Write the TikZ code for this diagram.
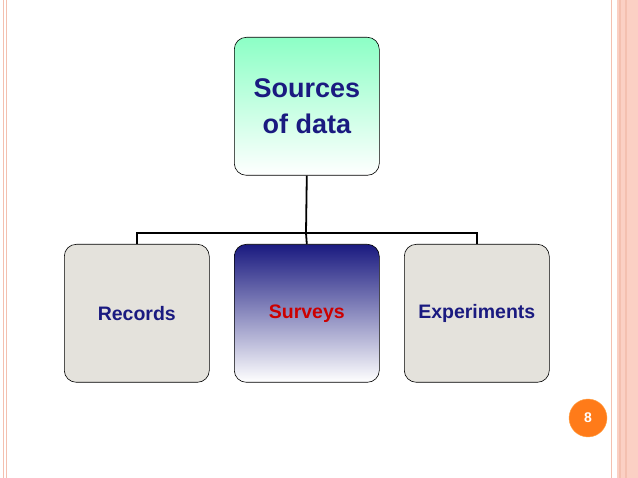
\documentclass[tikz,border=0pt]{standalone}
\usepackage{fontspec}
\setmainfont{Liberation Sans}
\begin{document}
\begin{tikzpicture}[x=1pt,y=-1pt,
  bx/.style={draw=black,rounded corners=12pt,line width=0.6pt,minimum width=145pt,minimum height=138pt,anchor=north west,font=\bfseries\fontsize{19.5}{22}\selectfont,align=center},
  conn/.style={line width=1.8pt}]
\definecolor{pinkl}{HTML}{F4C0B0}
\definecolor{pinkf}{HTML}{FBD0C4}
\definecolor{navy}{HTML}{1A1A80}
\definecolor{stone}{HTML}{E4E2DC}
\useasboundingbox (0,0) rectangle (638,478);
\fill[white] (0,0) rectangle (638,478);
\draw[pinkl,line width=1pt] (3.5,0) -- (3.5,478);
\draw[pinkl,line width=1pt] (6.5,0) -- (6.5,478);
\draw[pinkl,line width=1pt] (611,0) -- (611,478);
\fill[pinkf] (617,0) rectangle (638,478);
\draw[pinkl,line width=1.2pt] (620,0) -- (620,478);
\draw[pinkl,line width=1.2pt] (626,0) -- (626,478);
\node[bx,top color=green!50!cyan!45,bottom color=white,font=\bfseries\fontsize{27}{36}\selectfont,text=navy] (src) at (234,37) {Sources\\of data};
\node[bx,fill=stone,text=navy] (rec) at (64,244) {Records};
\node[bx,top color=navy,bottom color=white,text=red!80!black] (sur) at (234,244) {Surveys};
\node[bx,fill=stone,text=navy] (exp) at (404,244) {Experiments};
\coordinate (j) at (306,233);
\draw[conn] (src.south) -- (j);
\draw[conn] (rec.north) -- ++(0,-11) -| (exp.north);
\draw[conn] (j) -- (sur.north);
\node[circle,fill=orange!85!red!90,draw=orange!70,minimum size=38pt,text=white,font=\bfseries\fontsize{14}{16}\selectfont] (pg) at (588,418) {8};
\end{tikzpicture}
\end{document}
